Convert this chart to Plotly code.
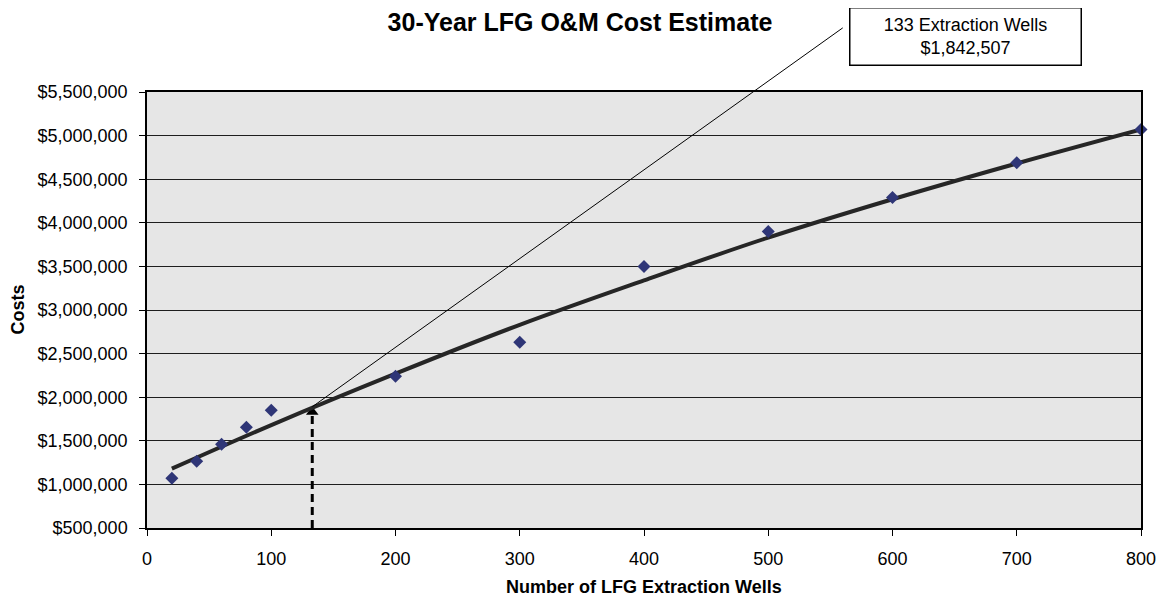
import plotly.graph_objects as go

# ---- data ----
wells = [20, 40, 60, 80, 100, 200, 300, 400, 500, 600, 700, 800]
costs = [1070000, 1265000, 1460000, 1655000, 1850000, 2240000, 2630000,
         3500000, 3900000, 4290000, 4690000, 5070000]

trend_wells = [20, 100, 200, 300, 400, 500, 600, 700, 800]
trend_costs = [1180000, 1680000, 2270000, 2830000, 3340000, 3830000,
               4270000, 4680000, 5070000]

marked_wells = 133
marked_cost_label = 1842507
marked_cost_on_trend = 1890000

y_tick_vals = [500000, 1000000, 1500000, 2000000, 2500000, 3000000,
               3500000, 4000000, 4500000, 5000000, 5500000]
y_tick_text = ["${:,}".format(v) for v in y_tick_vals]
x_tick_vals = [0, 100, 200, 300, 400, 500, 600, 700, 800]

title_text = "30-Year LFG O&M Cost Estimate"
x_title = "Number of LFG Extraction Wells"
y_title = "Costs"

FONT = "Arial, Liberation Sans, sans-serif"
W, H = 1160, 590  # page body adds an 8px offset

fig = go.Figure()

# dashed pointer from axis up to trend
fig.add_trace(go.Scatter(
    x=[marked_wells, marked_wells], y=[y_tick_vals[0], marked_cost_on_trend - 60000],
    mode="lines", line=dict(color="black", width=3, dash="8px,5px"),
    hoverinfo="skip", cliponaxis=False))
fig.add_trace(go.Scatter(
    x=[marked_wells], y=[marked_cost_on_trend - 60000], mode="markers",
    marker=dict(symbol="triangle-up", size=11, color="black"),
    hoverinfo="skip"))

# trend line
fig.add_trace(go.Scatter(
    x=trend_wells, y=trend_costs, mode="lines",
    line=dict(color="#262626", width=4, shape="spline", smoothing=1.0),
    hoverinfo="skip"))

# data points
fig.add_trace(go.Scatter(
    x=wells, y=costs, mode="markers",
    marker=dict(symbol="diamond", size=10, color="#2f3677"),
    cliponaxis=False))

# diagonal leader line to label box
fig.add_annotation(
    x=marked_wells, y=marked_cost_on_trend, xref="x", yref="y",
    text="", showarrow=True, arrowhead=0, arrowwidth=1, arrowcolor="black",
    ax=532, ay=-380, axref="pixel", ayref="pixel", standoff=0)

# label box
fig.add_annotation(
    x=(969 - 147) / 998, y=(528 - 36) / 436, xref="paper", yref="paper",
    xanchor="center", yanchor="middle", showarrow=False,
    text="{} Extraction Wells<br>${:,}".format(marked_wells, marked_cost_label),
    font=dict(family=FONT, size=18, color="black"),
    width=226, height=52, borderpad=2, borderwidth=1.5,
    bordercolor="black", bgcolor="white")

# axis titles
fig.add_annotation(
    x=(17 - 147) / 998, y=0.5, xref="paper", yref="paper",
    text="<b>" + y_title + "</b>", textangle=-90, showarrow=False,
    xanchor="center", yanchor="middle",
    font=dict(family=FONT, size=18, color="black"))
fig.add_annotation(
    x=0.5, y=(528 - 587) / 436, xref="paper", yref="paper",
    text="<b>" + x_title + "</b>", showarrow=False,
    xanchor="center", yanchor="middle",
    font=dict(family=FONT, size=18, color="black"))

fig.update_layout(
    width=W, height=H,
    margin=dict(l=139, r=23, t=84, b=70),
    plot_bgcolor="#e6e6e6", paper_bgcolor="white",
    showlegend=False,
    font=dict(family=FONT, size=18, color="black"),
    title=dict(text="<b>" + title_text + "</b>", xref="container", yref="container",
               x=572 / W, y=1 - 5 / H, xanchor="center", yanchor="top",
               pad=dict(t=0, b=0, l=0, r=0),
               font=dict(family=FONT, size=25, color="black")),
)

fig.update_xaxes(
    range=[0, 800], tickvals=x_tick_vals, ticks="outside", ticklen=6,
    tickcolor="black", showgrid=False, zeroline=False,
    showline=True, linecolor="black", linewidth=1.5, mirror=True,
    ticklabelstandoff=8)
fig.update_yaxes(
    range=[500000, 5500000], tickvals=y_tick_vals, ticktext=y_tick_text,
    ticks="outside", ticklen=6, tickcolor="black",
    showgrid=True, gridcolor="#1e1e1e", gridwidth=1, zeroline=False,
    showline=True, linecolor="black", linewidth=1.5, mirror=True,
    ticklabelstandoff=8)

fig.write_html("out.html")
